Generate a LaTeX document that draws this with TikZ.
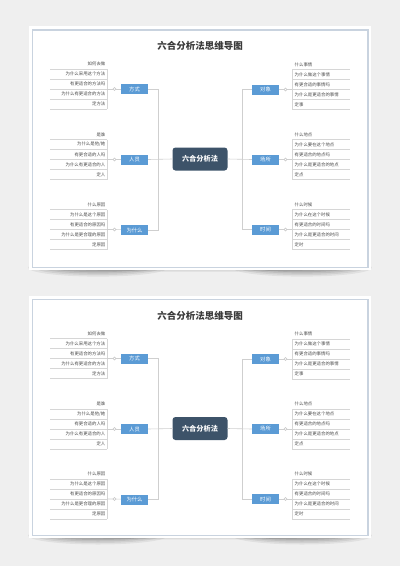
\documentclass[tikz,border=0pt]{standalone}
\usepackage{fontspec}
\setmainfont{Noto Sans CJK SC}
\usetikzlibrary{calc}
\definecolor{bg}{HTML}{EFEFEF}
\definecolor{framec}{HTML}{C9D3DF}
\definecolor{topicblue}{HTML}{5B9BD5}
\definecolor{centernavy}{HTML}{3D5369}
\definecolor{linegray}{HTML}{CFCFCF}
\definecolor{textgray}{HTML}{4A4A4A}
\definecolor{titlegray}{HTML}{3A3A3A}
\tikzset{
  topic/.style={fill=topicblue, text=white, minimum width=27pt, minimum height=10pt, inner sep=0pt, font=\fontsize{5.3}{6}\selectfont},
  centertopic/.style={fill=centernavy, text=white, rounded corners=3pt, minimum width=55pt, minimum height=23pt, inner sep=0pt, font=\fontsize{7.2}{8}\selectfont\bfseries},
  leafL/.style={anchor=east, inner sep=0pt, text=textgray, font=\fontsize{4.4}{5}\selectfont},
  leafR/.style={anchor=west, inner sep=0pt, text=textgray, font=\fontsize{4.4}{5}\selectfont},
  conn/.style={draw=linegray, line width=0.6pt},
  sepline/.style={draw=linegray!85, line width=0.5pt},
  knob/.style={circle, draw=linegray!120, fill=white, line width=0.4pt, minimum size=3pt, inner sep=0pt},
  titletext/.style={text=titlegray, font=\fontsize{9.5}{11}\selectfont\bfseries},
  shade/.style={fill=black, opacity=#1},
}
% left group: #1 prefix, #2 id, #3 cy, #4 items
\newcommand\myleftgroup[4]{%
  \foreach \t [count=\k] in {#4} {\node[leafL] (#1-#2-\k) at (105.5,#3-35+10*\k) {\t};}
  \foreach \k in {1,...,5} {\draw[sepline] (50,#3-30+10*\k) -- (107,#3-30+10*\k);}
  \draw[sepline] (107,#3-20) -- (107,#3+20);
  \coordinate (#1-#2-anchor) at (107,#3);
  \node[knob] (#1-#2-knob) at (114.5,#3) {};
}
\newcommand\myrightgroup[4]{%
  \foreach \t [count=\k] in {#4} {\node[leafR] (#1-#2-\k) at (294.5,#3-35+10*\k) {\t};}
  \foreach \k in {1,...,5} {\draw[sepline] (292,#3-30+10*\k) -- (350,#3-30+10*\k);}
  \draw[sepline] (292,#3-20) -- (292,#3+20);
  \coordinate (#1-#2-anchor) at (292,#3);
  \node[knob] (#1-#2-knob) at (285.5,#3) {};
}
\newcommand\mypanel[3]{% #1 prefix, #2 yshift, #3 bottom of frame
  \begin{scope}[yshift=-#2pt]
  % curled shadow: darker toward both ends
  \foreach \r/\h/\o in {62/9/0.06, 55/7.5/0.07, 48/6/0.08, 40/4.5/0.09} {
    \fill[shade=\o] (98,#3) ellipse (\r+8 and \h);
    \fill[shade=\o] (302,#3) ellipse (\r+8 and \h);
  }
  \fill[shade=0.08] (200,#3) ellipse (165 and 4);
  \fill[shade=0.06] (200,#3) ellipse (120 and 2.5);
  \fill[white] (29,26) rectangle (370.5,#3+2.5);
  \draw[framec, line width=1.6pt] (32.3,30) rectangle (367.7,#3);
  \node[titletext] (#1-title) at (200,46) {六合分析法思维导图};
  \node[centertopic] (#1-center) at (200,159) {六合分析法};
  \node[topic] (#1-fs) at (134.5,89) {方式};
  \node[topic] (#1-ry) at (134.5,159.5) {人员};
  \node[topic] (#1-wsm) at (134.5,230) {为什么};
  \node[topic] (#1-dx) at (265.5,89.5) {对象};
  \node[topic] (#1-cs) at (265.5,159.5) {场所};
  \node[topic] (#1-sj) at (265.5,229.5) {时间};
  \draw[conn] (#1-fs.east) -- ++(10,0) |- (#1-wsm.east);
  \draw[conn] (#1-ry.east) -- (#1-center.west);
  \draw[conn] (#1-dx.west) -- ++(-10,0) |- (#1-sj.west);
  \draw[conn] (#1-cs.west) -- (#1-center.east);
  \myleftgroup{#1}{a}{89}{如何去做,为什么采用这个方法,有更适合的方法吗,为什么有更适合的方法,定方法}
  \myleftgroup{#1}{b}{159.5}{是谁,为什么是他/她,有更合适的人吗,为什么有更适合的人,定人}
  \myleftgroup{#1}{c}{229.5}{什么原因,为什么是这个原因,有更适合的原因吗,为什么是更合理的原因,定原因}
  \myrightgroup{#1}{d}{89.5}{什么事情,为什么做这个事情,有更合适的事情吗,为什么是更适合的事情,定事}
  \myrightgroup{#1}{e}{159.5}{什么地点,为什么要在这个地点,有更适合的地点吗,为什么是更适合的地点,定点}
  \myrightgroup{#1}{f}{229.5}{什么时候,为什么在这个时候,有更适合的时间吗,为什么是更适合的时间,定时}
  \draw[conn] (#1-a-anchor) -- (#1-a-knob) -- (#1-fs);
  \draw[conn] (#1-b-anchor) -- (#1-b-knob) -- (#1-ry);
  \draw[conn] (#1-c-anchor) -- (#1-c-knob) -- (#1-wsm);
  \draw[conn] (#1-d-anchor) -- (#1-d-knob) -- (#1-dx);
  \draw[conn] (#1-e-anchor) -- (#1-e-knob) -- (#1-cs);
  \draw[conn] (#1-f-anchor) -- (#1-f-knob) -- (#1-sj);
  \end{scope}
}
\begin{document}
\begin{tikzpicture}[x=1pt, y=-1pt]
  \useasboundingbox (0,0) rectangle (400,566);
  \fill[bg] (0,0) rectangle (400,566);
  \mypanel{p}{0}{267.6}
  \mypanel{q}{269.5}{266}
\end{tikzpicture}
\end{document}
